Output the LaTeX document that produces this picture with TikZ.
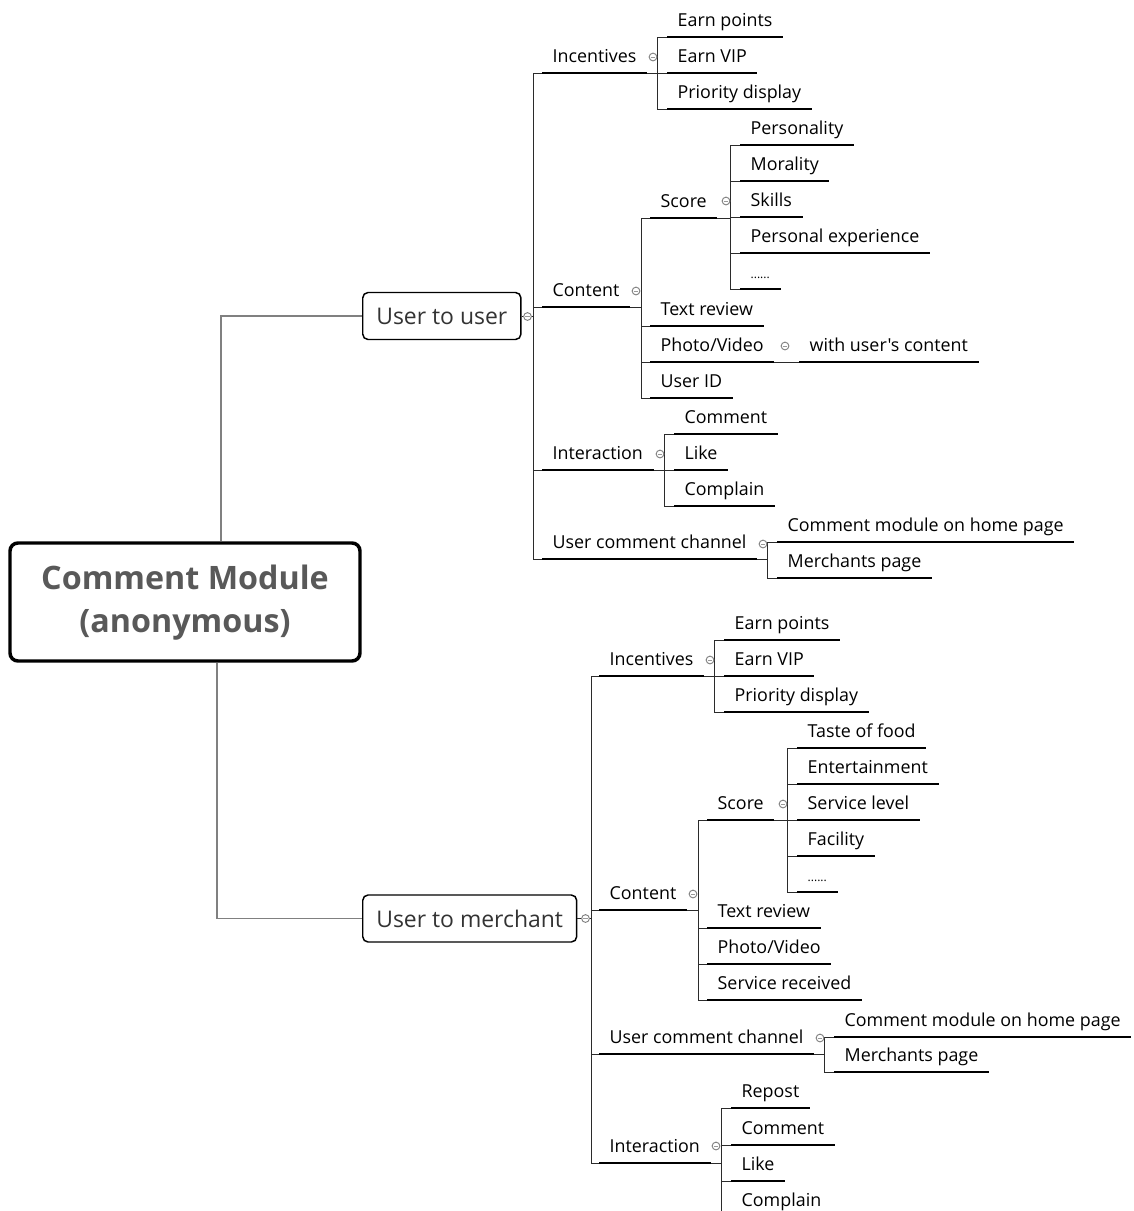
\documentclass[tikz,border=0pt]{standalone}
\usepackage{fontspec}
\setmainfont{Open Sans}[Ligatures=TeXOff]
\usetikzlibrary{calc}
\newcommand\itemfont{\fontsize{13.4}{16}\selectfont}
\newcommand\boxfont{\fontsize{17.2}{20}\selectfont}
\newcommand\rootfont{\fontsize{24.2}{32.2}\selectfont\bfseries}
\definecolor{rootgray}{HTML}{595959}
\definecolor{lnk}{HTML}{2B2B2B}
\definecolor{rootlnk}{HTML}{808080}
\newcommand\mmgroup[5]{%
  \draw[conn] (#1.south east) -- (#2 |- #1.south);
  \draw[conn] (#2 |- #3.south) -- (#2 |- #4.south);
  \foreach \c in {#5} {\draw[conn] (#2 |- \c.south) -- (\c.south west);}
}
\begin{document}
\begin{tikzpicture}[x=0.75pt,y=-0.75pt,
  ul/.style={line width=1.9pt,black},
  it/.style={anchor=south west,inner xsep=7.8pt,inner ysep=7.5pt,text depth=0pt,
    font=\itemfont,text=black,
    append after command={(\tikzlastnode.south west) edge[ul] (\tikzlastnode.south east)}},
  conn/.style={line width=0.75pt,lnk},
  rootc/.style={line width=1.1pt,rootlnk},
  lone/.style={draw=black,line width=1.1pt,rounded corners=4pt,anchor=west,
    minimum height=35.25pt,inner xsep=10.2pt,font=\boxfont,text=black!80},
  rootbox/.style={draw=black,line width=2.6pt,rounded corners=6pt,
    minimum width=262.5pt,minimum height=88.5pt,font=\rootfont,text=rootgray},
  tog/.style={circle,draw=black!50,fill=white,line width=0.7pt,minimum size=5.8pt,inner sep=0pt,
    path picture={\draw[black!40,line width=0.5pt]
      ([xshift=1.2pt]path picture bounding box.west) -- ([xshift=-1.2pt]path picture bounding box.east);}}
]
\useasboundingbox (0,0) rectangle (1134,1211);
\clip (0,0) rectangle (1134,1211);
\fill[white] (0,0) rectangle (1134,1211);

% root
\node[rootbox] (root) at (185,602) {\raisebox{-3pt}{\begin{tabular}{@{}c@{}}Comment Module\\(anonymous)\end{tabular}}};
\node[lone] (uu) at (362,316) {User to user};
\node[lone] (um) at (362,918.5) {User to merchant};
\draw[rootc] ($(root.north)+(36,0)$) |- (uu.west);
\draw[rootc] ($(root.south)+(32,0)$) |- (um.west);

% ---------- upper branch ----------
\coordinate (s1) at (533,0);
\node[it] (inc1) at (542,73) {Incentives};
\node[it] (con1) at (542,307) {Content};
\node[it] (int1) at (542,470) {Interaction};
\node[it] (ucc1) at (542,559) {User comment channel};

\coordinate (v11) at (657,0);
\node[it] (ep1) at (667,37) {Earn points};
\node[it] (ev1) at (667,73) {Earn VIP};
\node[it] (pd1) at (667,109) {Priority display};

\coordinate (v12) at (641,0);
\node[it] (sc1) at (650,218) {Score};
\node[it] (tr1) at (650,326) {Text review};
\node[it] (pv1) at (650,362) {Photo/Video};
\node[it] (id1) at (650,398) {User ID};

\coordinate (v13) at (730,0);
\node[it] (pe1) at (740,145) {Personality};
\node[it] (mo1) at (740,181) {Morality};
\node[it] (sk1) at (740,217) {Skills};
\node[it] (px1) at (740,253) {Personal experience};
\node[it] (dt1) at (740,289) {\fontsize{9}{10}\selectfont ......};

\node[it] (wu1) at (799,362) {with user's content};

\coordinate (v14) at (664,0);
\node[it] (cm1) at (674,434) {Comment};
\node[it] (lk1) at (674,470) {Like};
\node[it] (cp1) at (674,506) {Complain};

\coordinate (v15) at (767,0);
\node[it] (hp1) at (777,542) {Comment module on home page};
\node[it] (mp1) at (777,578) {Merchants page};

\draw[conn] (uu.east) -- (s1 |- uu.east);
\draw[conn] (s1 |- inc1.south) -- (s1 |- ucc1.south);
\foreach \c in {inc1,con1,int1,ucc1} {\draw[conn] (s1 |- \c.south) -- (\c.south west);}
\mmgroup{inc1}{v11}{ep1}{pd1}{ep1,ev1,pd1}
\mmgroup{con1}{v12}{sc1}{id1}{sc1,tr1,pv1,id1}
\mmgroup{sc1}{v13}{pe1}{dt1}{pe1,mo1,sk1,px1,dt1}
\mmgroup{int1}{v14}{cm1}{cp1}{cm1,lk1,cp1}
\mmgroup{ucc1}{v15}{hp1}{mp1}{hp1,mp1}
\draw[conn] (pv1.south east) -- (wu1.south west);

% ---------- lower branch ----------
\coordinate (s2) at (591,0);
\node[it] (inc2) at (599,676) {Incentives};
\node[it] (con2) at (599,910) {Content};
\node[it] (ucc2) at (599,1054) {User comment channel};
\node[it] (int2) at (599,1163) {Interaction};

\coordinate (v21) at (714,0);
\node[it] (ep2) at (724,640) {Earn points};
\node[it] (ev2) at (724,676) {Earn VIP};
\node[it] (pd2) at (724,712) {Priority display};

\coordinate (v22) at (698,0);
\node[it] (sc2) at (707,820) {Score};
\node[it] (tr2) at (707,928) {Text review};
\node[it] (pv2) at (707,964) {Photo/Video};
\node[it] (sr2) at (707,1000) {Service received};

\coordinate (v23) at (787,0);
\node[it] (tf2) at (797,748) {Taste of food};
\node[it] (en2) at (797,784) {Entertainment};
\node[it] (sl2) at (797,820) {Service level};
\node[it] (fa2) at (797,856) {Facility};
\node[it] (dt2) at (797,892) {\fontsize{9}{10}\selectfont ......};

\coordinate (v24) at (824,0);
\node[it] (hp2) at (834,1037) {Comment module on home page};
\node[it] (mp2) at (834,1072) {Merchants page};

\coordinate (v25) at (721,0);
\node[it] (rp2) at (731,1108) {Repost};
\node[it] (cm2) at (731,1145) {Comment};
\node[it] (lk2) at (731,1181) {Like};
\node[it] (cp2) at (731,1217) {Complain};

\draw[conn] (um.east) -- (s2 |- um.east);
\draw[conn] (s2 |- inc2.south) -- (s2 |- int2.south);
\foreach \c in {inc2,con2,ucc2,int2} {\draw[conn] (s2 |- \c.south) -- (\c.south west);}
\mmgroup{inc2}{v21}{ep2}{pd2}{ep2,ev2,pd2}
\mmgroup{con2}{v22}{sc2}{sr2}{sc2,tr2,pv2,sr2}
\mmgroup{sc2}{v23}{tf2}{dt2}{tf2,en2,sl2,fa2,dt2}
\mmgroup{ucc2}{v24}{hp2}{mp2}{hp2,mp2}
\mmgroup{int2}{v25}{rp2}{cp2}{rp2,cm2,lk2,cp2}

% ---------- toggles ----------
\node[tog] (t0) at (527.5,316.5) {};
\node[tog] (t1) at (653,57) {};
\node[tog] (t2) at (636,291) {};
\node[tog] (t3) at (726,201) {};
\node[tog] (t4) at (785,346) {};
\node[tog] (t5) at (660,454) {};
\node[tog] (t6) at (763,544) {};
\node[tog] (t7) at (585.5,918.5) {};
\node[tog] (t8) at (710,660) {};
\node[tog] (t9) at (693,894) {};
\node[tog] (t10) at (783,804) {};
\node[tog] (t11) at (820,1038) {};
\node[tog] (t12) at (716,1146) {};
\end{tikzpicture}
\end{document}
